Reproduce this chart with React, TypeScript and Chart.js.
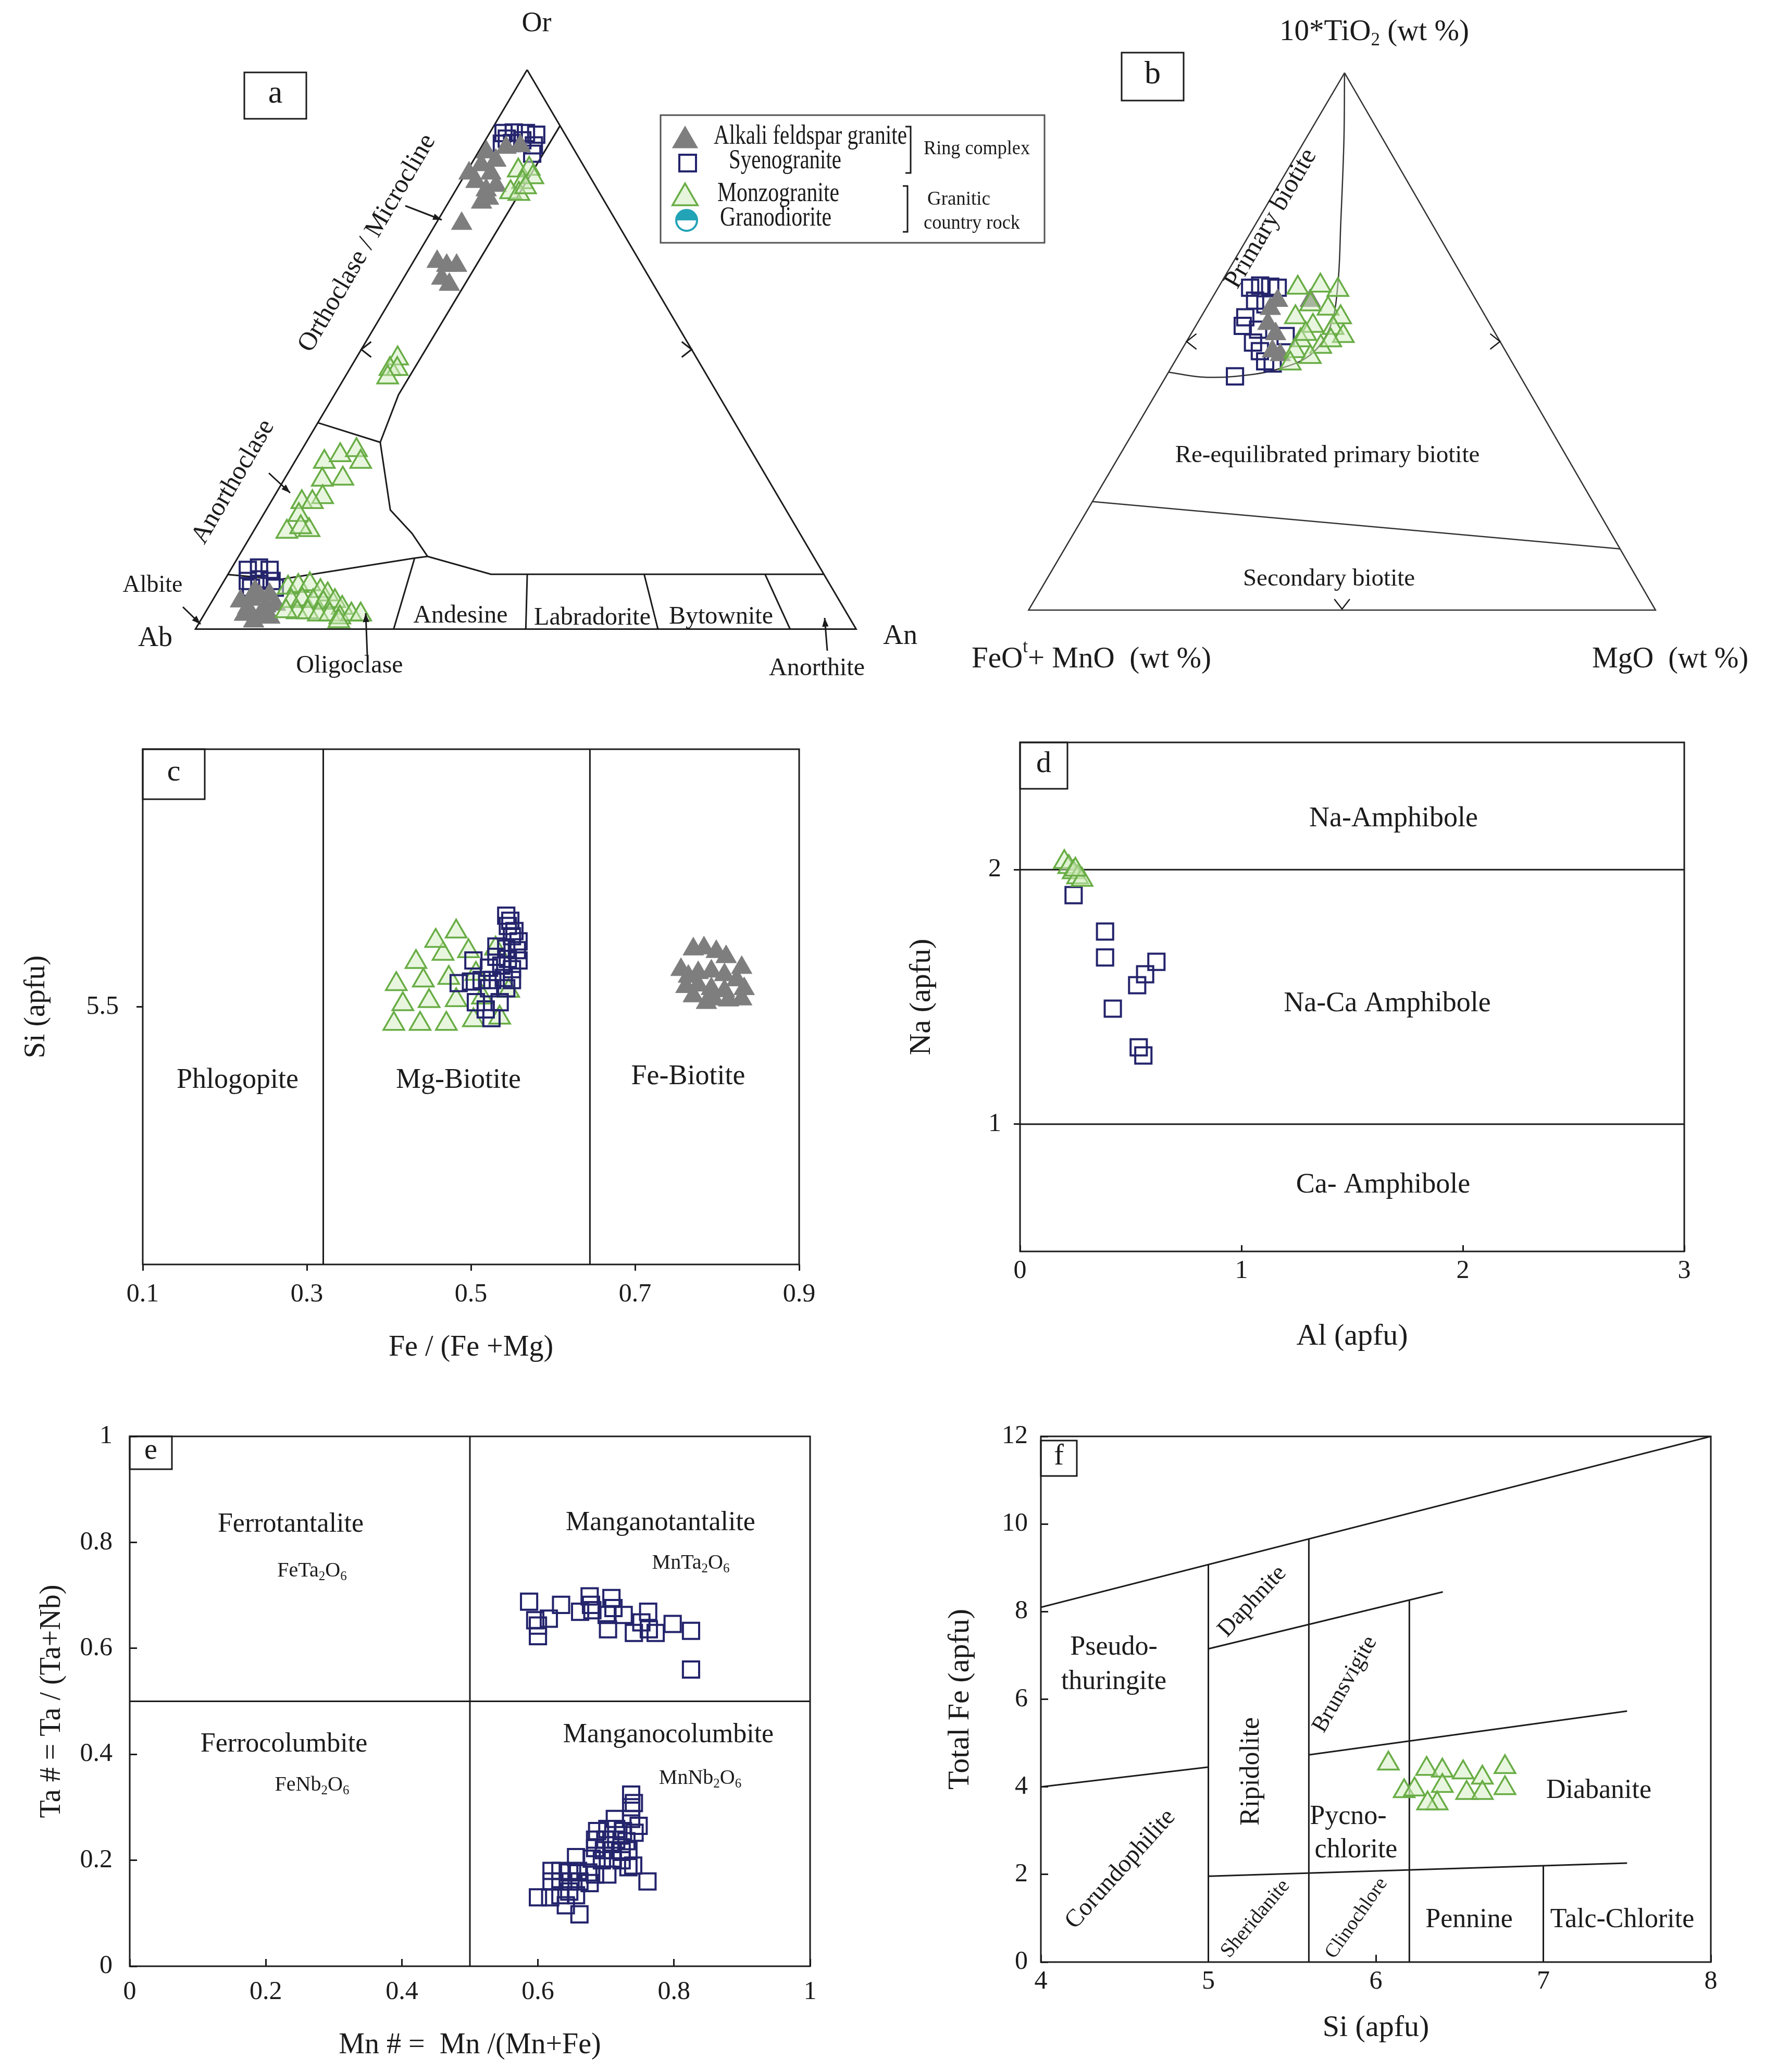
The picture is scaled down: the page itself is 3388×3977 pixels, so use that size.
import React, { useEffect, useRef } from 'react';
import { Chart, registerables } from 'chart.js';

Chart.register(...registerables);

const SERIF = '"Liberation Serif", "Times New Roman", "DejaVu Serif", serif';
const INK = '#1b1b1b';
const NAVY = '#24246c';
const GRAY = '#7e7e7e';
const GREEN = '#69ad46';
const GREEN_FILL = 'rgba(212,238,192,0.5)';
const TEAL = '#22a3b6';

// ================= DATA =================
// (a) Feldspar ternary, [Or, Ab, An] in %
const A_ALKALI = [
  [85.3, 13.5, 1.2], [83.0, 15.4, 1.6], [81.5, 14.7, 3.8], [80.0, 17.7, 2.3], [78.5, 16.9, 4.6], [76.3, 18.7, 5.0],
  [83.8, 12.8, 3.4], [86.1, 10.1, 3.8], [86.4, 7.8, 5.8], [79.3, 15.0, 5.7], [77.0, 17.3, 5.7], [81.5, 18.0, 0.5],
  [72.5, 23.6, 3.9], [65.7, 30.7, 3.6], [65.0, 29.6, 5.4], [65.0, 28.1, 6.9], [62.7, 31.5, 5.8], [61.6, 30.9, 7.5],
  [2.6, 91.3, 6.1], [1.4, 90.5, 8.1], [2.6, 88.9, 8.5], [2.1, 87.7, 10.2], [5.0, 90.7, 4.3], [5.3, 88.9, 5.8],
  [5.9, 87.3, 6.8], [6.2, 85.7, 8.1], [4.4, 85.7, 9.9], [3.8, 90.2, 6.0], [4.1, 87.3, 8.6], [6.8, 87.6, 5.6],
];
const A_SYENO = [
  [88.7, 9.2, 2.1], [88.8, 7.6, 3.6], [88.7, 5.8, 5.5], [88.4, 4.4, 7.2], [86.8, 10.4, 2.8], [86.9, 8.8, 4.3],
  [86.5, 5.7, 7.8], [85.0, 6.7, 8.3], [87.7, 9.2, 3.1], [87.4, 7.0, 5.6],
  [10.6, 86.8, 2.6], [11.0, 84.9, 4.1], [10.6, 83.5, 5.9], [8.6, 87.8, 3.6], [8.9, 85.9, 5.2], [8.6, 84.2, 7.2],
  [7.4, 84.3, 8.3], [7.4, 87.9, 4.7],
];
const A_MONZO = [
  [82.0, 10.3, 7.7], [82.3, 8.5, 9.2], [79.9, 10.7, 9.4], [80.8, 8.7, 10.5], [78.1, 13.4, 8.5], [77.8, 12.3, 9.9], [79.0, 10.7, 10.3],
  [48.4, 45.3, 6.3], [46.5, 47.4, 6.1], [46.5, 46.3, 7.2], [45.0, 48.5, 6.5],
  [29.9, 65.6, 4.5], [31.1, 62.6, 6.3], [32.0, 59.7, 8.3], [29.9, 60.1, 10.0], [26.7, 67.5, 5.8], [26.9, 64.3, 8.8],
  [23.6, 69.0, 7.4], [22.7, 72.6, 4.7], [22.7, 71.0, 6.3], [20.4, 74.2, 5.4], [17.4, 77.5, 5.1], [17.7, 74.0, 8.3], [18.2, 75.0, 6.8],
  [7.4, 82.3, 10.3], [7.7, 80.6, 11.7], [8.0, 78.7, 13.3], [6.8, 77.7, 15.5], [6.2, 76.9, 16.9], [5.0, 83.0, 12.0],
  [5.3, 81.2, 13.5], [5.0, 79.7, 15.3], [4.7, 78.3, 17.0], [5.0, 76.4, 18.6], [3.8, 75.9, 20.3], [3.0, 83.1, 13.9],
  [3.0, 81.5, 15.5], [2.6, 80.1, 17.3], [2.6, 78.4, 19.0], [2.1, 77.1, 20.8], [2.6, 75.1, 22.3], [2.6, 73.7, 23.7],
  [1.4, 77.6, 21.0], [3.2, 84.7, 12.1],
];
const A_GRANODIORITE: number[][] = [];
const A_EDGE = [[100, 0, 0], [0, 100, 0], [0, 0, 100], [100, 0, 0]];
const A_FIELDS = [
  [[9.75, 90.25, 0], [8.9, 82.7, 8.4], [12.7, 60.5, 26.8], [13.0, 58.4, 28.6]],
  [[12.7, 60.5, 26.8], [0, 70, 30]],
  [[13.0, 58.4, 28.6], [17.1, 58.7, 24.2], [21.3, 59.9, 18.8], [33.4, 55.4, 11.2], [36.9, 63.1, 0]],
  [[33.4, 55.4, 11.2], [41.9, 48.4, 9.7], [90, 0, 10]],
  [[13.0, 58.4, 28.6], [9.8, 50.4, 39.8], [9.8, 0, 90.2]],
  [[9.8, 44.9, 45.3], [0, 50, 50]],
  [[9.8, 27.2, 63.0], [0, 30, 70]],
  [[9.8, 8.9, 81.3], [0, 10, 90]],
];

// (b) Biotite ternary, [10*TiO2, FeOt+MnO, MgO] in %
const B_SYENO = [
  [60.4, 33.1, 6.5], [60.2, 31.6, 8.2], [60.0, 30.5, 9.5], [57.6, 35.3, 7.1], [56.9, 34.0, 9.1], [54.5, 38.4, 7.1],
  [52.9, 39.6, 7.5], [52.2, 37.5, 10.3], [49.8, 39.5, 10.7], [48.2, 39.2, 12.6], [46.3, 39.3, 14.4], [45.9, 38.3, 15.8],
  [51.0, 33.7, 15.3], [43.5, 45.5, 11.0], [60.0, 34.9, 5.1],
];
const B_ALKALI = [
  [56.1, 33.6, 10.3], [57.6, 31.7, 10.7], [51.4, 35.1, 13.5], [48.2, 37.2, 14.6], [47.5, 36.3, 16.2], [53.3, 35.4, 11.3], [57.6, 26.5, 15.9],
];
const B_MONZO = [
  [60.0, 27.3, 12.7], [60.4, 23.5, 16.1], [59.6, 21.1, 19.3], [56.9, 26.8, 16.3], [56.1, 24.4, 19.5], [54.5, 23.2, 22.3],
  [54.5, 30.4, 15.1], [52.9, 28.4, 18.7], [52.5, 25.4, 22.1], [51.0, 24.5, 24.5], [50.2, 31.7, 18.1], [49.0, 29.1, 21.9],
  [48.2, 33.6, 18.2], [47.1, 31.7, 21.2], [45.9, 35.5, 18.6], [50.2, 26.9, 22.9], [51.4, 30.3, 18.3],
];
const B_EDGE = [[100, 0, 0], [0, 100, 0], [0, 0, 100], [100, 0, 0]];
const B_SECONDARY = [[20.2, 79.8, 0], [11.4, 0, 88.6]];
const B_PRIMARY = [
  [100, 0, 0], [87.5, 6.3, 6.2], [71.8, 14.6, 13.6], [60.8, 20.5, 18.7], [52.9, 25.6, 21.5],
  [47.5, 31.5, 21.0], [44.7, 38.5, 16.8], [43.5, 45.5, 11.0], [43.4, 51.1, 5.5], [44.3, 55.7, 0],
];

// (c) Biotite classification: [Fe/(Fe+Mg), Si apfu]
const C_X_TICKS = [0.1, 0.3, 0.5, 0.7, 0.9];
const C_Y_TICKS = [5.5];
const C_BOUNDS = [0.32, 0.645];
const C_MONZO = [
  [0.406, 5.467], [0.438, 5.467], [0.470, 5.467], [0.503, 5.474], [0.535, 5.479], [0.417, 5.505], [0.449, 5.511],
  [0.482, 5.513], [0.514, 5.518], [0.409, 5.544], [0.442, 5.551], [0.473, 5.556], [0.506, 5.564], [0.433, 5.587],
  [0.466, 5.603], [0.497, 5.608], [0.482, 5.646], [0.457, 5.628], [0.530, 5.613], [0.546, 5.531],
];
const C_SYENO = [
  [0.543, 5.677], [0.548, 5.667], [0.545, 5.657], [0.553, 5.647], [0.550, 5.637], [0.558, 5.627], [0.531, 5.617],
  [0.543, 5.613], [0.556, 5.610], [0.503, 5.590], [0.531, 5.597], [0.545, 5.593], [0.558, 5.590], [0.522, 5.576],
  [0.537, 5.580], [0.550, 5.573], [0.485, 5.546], [0.500, 5.549], [0.513, 5.552], [0.526, 5.552], [0.540, 5.556],
  [0.550, 5.552], [0.522, 5.536], [0.543, 5.536], [0.506, 5.509], [0.518, 5.495], [0.535, 5.509], [0.525, 5.478],
];
const C_ALKALI = [
  [0.771, 5.612], [0.784, 5.614], [0.799, 5.607], [0.811, 5.597], [0.830, 5.576], [0.756, 5.572], [0.765, 5.559],
  [0.777, 5.566], [0.793, 5.569], [0.809, 5.562], [0.824, 5.552], [0.833, 5.535], [0.762, 5.539], [0.777, 5.542],
  [0.793, 5.535], [0.809, 5.531], [0.796, 5.515], [0.814, 5.513], [0.830, 5.515], [0.771, 5.521], [0.787, 5.508],
];

// (d) Amphibole: [Al apfu, Na apfu]
const D_X_TICKS = [0, 1, 2, 3];
const D_Y_TICKS = [1, 2];
const D_BOUNDS = [1, 2];
const D_MONZO = [[0.20, 2.03], [0.22, 2.01], [0.24, 1.99], [0.26, 1.97], [0.28, 1.96], [0.25, 2.0]];
const D_SYENO = [
  [0.242, 1.90], [0.384, 1.757], [0.384, 1.655], [0.616, 1.638], [0.565, 1.589], [0.529, 1.546],
  [0.419, 1.454], [0.536, 1.302], [0.557, 1.270],
];

// (e) Columbite-tantalite: [Mn#, Ta#]
const E_TICKS = [0, 0.2, 0.4, 0.6, 0.8, 1];
const E_BOUNDS = [0.5];
const E_SYENO_TA = [
  [0.587, 0.688], [0.596, 0.653], [0.600, 0.643], [0.600, 0.623], [0.616, 0.656], [0.634, 0.682], [0.662, 0.669],
  [0.676, 0.698], [0.678, 0.682], [0.680, 0.672], [0.701, 0.663], [0.703, 0.636], [0.708, 0.695], [0.711, 0.676],
  [0.726, 0.663], [0.741, 0.629], [0.752, 0.649], [0.762, 0.669], [0.763, 0.636], [0.773, 0.629], [0.798, 0.646],
  [0.825, 0.633], [0.825, 0.560],
];
const E_SYENO_NB = [
  [0.737, 0.324], [0.741, 0.308], [0.737, 0.300], [0.713, 0.278], [0.737, 0.278], [0.748, 0.265], [0.742, 0.252],
  [0.687, 0.255], [0.702, 0.259], [0.715, 0.259], [0.725, 0.255], [0.684, 0.239], [0.699, 0.239], [0.715, 0.239],
  [0.730, 0.236], [0.684, 0.223], [0.697, 0.219], [0.710, 0.219], [0.723, 0.216], [0.733, 0.219], [0.656, 0.206],
  [0.679, 0.203], [0.694, 0.200], [0.710, 0.203], [0.723, 0.200], [0.733, 0.187], [0.740, 0.190], [0.620, 0.180],
  [0.633, 0.180], [0.646, 0.177], [0.659, 0.180], [0.674, 0.177], [0.684, 0.173], [0.620, 0.160], [0.633, 0.160],
  [0.648, 0.160], [0.661, 0.160], [0.676, 0.157], [0.702, 0.173], [0.600, 0.130], [0.618, 0.130], [0.633, 0.134],
  [0.646, 0.141], [0.656, 0.134], [0.641, 0.115], [0.661, 0.098], [0.761, 0.160],
];

// (f) Chlorite: [Si apfu, Total Fe apfu]
const F_X_TICKS = [4, 5, 6, 7, 8];
const F_Y_TICKS = [0, 2, 4, 6, 8, 10, 12];
const F_FIELDS = [
  [[4, 8.1], [8, 12]],
  [[5, 0], [5, 9.07]],
  [[5.6, 0], [5.6, 9.66]],
  [[5, 7.15], [6.4, 8.45]],
  [[6.2, 0], [6.2, 8.27]],
  [[4, 4.0], [5, 4.45]],
  [[5.6, 4.73], [7.5, 5.73]],
  [[5, 1.96], [7.5, 2.26]],
  [[7, 0], [7, 2.2]],
];
const F_MONZO = [
  [6.075, 4.53], [6.169, 3.90], [6.231, 3.94], [6.303, 4.41], [6.397, 4.37], [6.521, 4.33], [6.636, 4.21],
  [6.771, 4.45], [6.397, 4.02], [6.542, 3.86], [6.636, 3.86], [6.771, 3.97], [6.366, 3.62], [6.309, 3.62],
];

// ================= HELPERS =================
type Seg = { t: string; s?: 'sub' | 'sup' };
type Txt = { text: string | Seg[]; x: number; y: number; size: number; rot?: number; align?: 'left' | 'center' | 'right'; w?: number };

function drawText(ctx: CanvasRenderingContext2D, l: Txt) {
  const segs: Seg[] = typeof l.text === 'string' ? [{ t: l.text }] : l.text;
  const fontFor = (s?: string) => `${s ? Math.round(l.size * 0.62) : l.size}px ${SERIF}`;
  const widths = segs.map((sg) => { ctx.font = fontFor(sg.s); return ctx.measureText(sg.t).width; });
  const total = widths.reduce((a, b) => a + b, 0);
  const sx = l.w ? l.w / total : 1;
  ctx.save();
  ctx.translate(l.x, l.y);
  if (l.rot) ctx.rotate((l.rot * Math.PI) / 180);
  ctx.scale(sx, 1);
  ctx.fillStyle = INK;
  ctx.textBaseline = 'middle';
  ctx.textAlign = 'left';
  let cx = l.align === 'left' ? 0 : l.align === 'right' ? -total : -total / 2;
  segs.forEach((sg, i) => {
    ctx.font = fontFor(sg.s);
    const dy = sg.s === 'sub' ? l.size * 0.28 : sg.s === 'sup' ? -l.size * 0.4 : 0;
    ctx.fillText(sg.t, cx, dy);
    cx += widths[i];
  });
  ctx.restore();
}

function arrow(ctx: CanvasRenderingContext2D, x1: number, y1: number, x2: number, y2: number, head = 18) {
  ctx.beginPath(); ctx.moveTo(x1, y1); ctx.lineTo(x2, y2); ctx.stroke();
  const a = Math.atan2(y2 - y1, x2 - x1);
  ctx.beginPath();
  ctx.moveTo(x2, y2);
  ctx.lineTo(x2 - head * Math.cos(a - 0.35), y2 - head * Math.sin(a - 0.35));
  ctx.lineTo(x2 - head * Math.cos(a + 0.35), y2 - head * Math.sin(a + 0.35));
  ctx.closePath(); ctx.fill();
}

function chevron(ctx: CanvasRenderingContext2D, x: number, y: number, dirDeg: number, len = 24, spread = 38) {
  const a = (dirDeg * Math.PI) / 180, s = (spread * Math.PI) / 180;
  ctx.beginPath();
  ctx.moveTo(x + len * Math.cos(a - s), y + len * Math.sin(a - s));
  ctx.lineTo(x, y);
  ctx.lineTo(x + len * Math.cos(a + s), y + len * Math.sin(a + s));
  ctx.stroke();
}

function letterBox(ctx: CanvasRenderingContext2D, x1: number, y1: number, x2: number, y2: number, letter: string, size = 58) {
  ctx.lineWidth = 3;
  ctx.strokeStyle = INK;
  ctx.strokeRect(x1, y1, x2 - x1, y2 - y1);
  drawText(ctx, { text: letter, x: (x1 + x2) / 2, y: (y1 + y2) / 2 - 3, size });
}

function tri(ctx: CanvasRenderingContext2D, x: number, y: number, r: number, fill: string, stroke: string, lw: number) {
  ctx.beginPath();
  for (let k = 0; k < 3; k++) {
    const a = (k * 2 * Math.PI) / 3;
    const px = x + Math.sin(a) * r, py = y - Math.cos(a) * r;
    if (k === 0) ctx.moveTo(px, py); else ctx.lineTo(px, py);
  }
  ctx.closePath();
  ctx.fillStyle = fill; ctx.fill();
  if (lw > 0) { ctx.lineWidth = lw; ctx.strokeStyle = stroke; ctx.stroke(); }
}

const SQ = { pointStyle: 'rect', pointRadius: 22, pointBorderWidth: 4, borderWidth: 4, pointBorderColor: NAVY, borderColor: NAVY, pointBackgroundColor: 'rgba(255,255,255,0)', backgroundColor: 'rgba(255,255,255,0)' };
const GTRI = { pointStyle: 'triangle', pointRadius: 23, pointBorderWidth: 1, borderWidth: 1, pointBorderColor: GRAY, borderColor: GRAY, pointBackgroundColor: GRAY, backgroundColor: GRAY };
const MTRI = { pointStyle: 'triangle', pointRadius: 23, pointBorderWidth: 3.5, borderWidth: 3.5, pointBorderColor: GREEN, borderColor: GREEN, pointBackgroundColor: GREEN_FILL, backgroundColor: GREEN_FILL };

const pts = (data: { x: number; y: number }[], style: any) => ({ type: 'scatter', data, showLine: false, ...style });
const line = (data: { x: number; y: number }[], extra: any = {}) => ({
  type: 'scatter', data, showLine: true, pointRadius: 0, borderColor: INK, borderWidth: 3, fill: false, tension: 0, ...extra,
});
const xy = (a: number[][]) => a.map((p) => ({ x: p[0], y: p[1] }));
const tern = (apex: number) => (p: number[]) => ({ x: p[2] + p[0] * apex, y: p[0] });
const TA = tern(0.502);
const TB = tern(0.504);

const overlay = (ox: number, oy: number, draw: (ctx: CanvasRenderingContext2D, toPage: (x: number, y: number) => number[]) => void) => ({
  id: 'overlay',
  afterDraw(chart: any) {
    const ctx = chart.ctx as CanvasRenderingContext2D;
    const toPage = (x: number, y: number) => [chart.scales.x.getPixelForValue(x) + ox, chart.scales.y.getPixelForValue(y) + oy];
    ctx.save();
    ctx.translate(-ox, -oy);
    ctx.strokeStyle = INK; ctx.fillStyle = INK; ctx.lineWidth = 3; ctx.lineCap = 'butt';
    draw(ctx, toPage);
    ctx.restore();
  },
});

const framePlugin = {
  id: 'frame',
  afterDatasetsDraw(chart: any) {
    const { left, top, right, bottom } = chart.chartArea;
    const ctx = chart.ctx as CanvasRenderingContext2D;
    ctx.save(); ctx.strokeStyle = INK; ctx.lineWidth = 3;
    ctx.strokeRect(left, top, right - left, bottom - top);
    ctx.restore();
  },
};

const BASE_OPTS = {
  responsive: false, animation: false, devicePixelRatio: 1, events: [],
  plugins: { legend: { display: false }, tooltip: { enabled: false } },
};

function ternConfig(box: number[], g: { l: number; r: number; base: number; apex: number }, datasets: any[], draw: any) {
  const [cl, ct, W, H] = box;
  const kx = (g.r - g.l) / 100, ky = (g.base - g.apex) / 100;
  return {
    type: 'scatter',
    data: { datasets },
    options: {
      ...BASE_OPTS,
      layout: { padding: 0 },
      scales: {
        x: { type: 'linear', display: false, min: (cl - g.l) / kx, max: (cl + W - g.l) / kx },
        y: { type: 'linear', display: false, min: (g.base - ct - H) / ky, max: (g.base - ct) / ky },
      },
    },
    plugins: [overlay(cl, ct, draw)],
  };
}

type Ax = { min: number; max: number; ticks: number[]; title: string; titleSize: number; titlePad: number; tickSize: number; tickLen: number; tickPad: number };
const fmt = (v: number) => String(Math.round(v * 100) / 100);

function cartConfig(box: number[], area: number[], X: Ax, Y: Ax, datasets: any[], draw: any) {
  const [cl, ct, W, H] = box;
  const [al, at, ar, ab] = area;
  const grid = (len: number) => ({ drawOnChartArea: false, drawTicks: true, tickLength: len, tickWidth: 3, tickColor: INK });
  return {
    type: 'scatter',
    data: { datasets },
    options: {
      ...BASE_OPTS,
      layout: { padding: { left: 0, bottom: 0, top: at - ct, right: cl + W - ar } },
      scales: {
        x: {
          type: 'linear', position: 'bottom', min: X.min, max: X.max,
          afterBuildTicks: (s: any) => { s.ticks = X.ticks.map((v) => ({ value: v })); },
          afterFit: (s: any) => { s.height = ct + H - ab; },
          ticks: { font: { family: SERIF, size: X.tickSize }, color: INK, padding: X.tickPad, autoSkip: false, maxRotation: 0, callback: (v: number) => fmt(v) },
          grid: grid(X.tickLen),
          border: { display: false },
          title: { display: true, text: X.title, color: INK, font: { family: SERIF, size: X.titleSize }, padding: { top: 0, bottom: X.titlePad } },
        },
        y: {
          type: 'linear', position: 'left', min: Y.min, max: Y.max,
          afterBuildTicks: (s: any) => { s.ticks = Y.ticks.map((v) => ({ value: v })); },
          afterFit: (s: any) => { s.width = al - cl; },
          ticks: { font: { family: SERIF, size: Y.tickSize }, color: INK, padding: Y.tickPad, autoSkip: false, callback: (v: number) => fmt(v) },
          grid: grid(Y.tickLen),
          border: { display: false },
          title: { display: true, text: Y.title, color: INK, font: { family: SERIF, size: Y.titleSize }, padding: { top: Y.titlePad, bottom: 0 } },
        },
      },
    },
    plugins: [framePlugin, overlay(cl, ct, draw)],
  };
}

// ================= PANELS =================
const BOX_A = [0, 0, 2040, 1330];
const GEO_A = { l: 358, r: 1660, base: 1230, apex: 112 };
const BOX_B = [1800, 0, 1588, 1330];
const GEO_B = { l: 1953, r: 3198, base: 1192, apex: 118 };
const BOX_C = [20, 1340, 1600, 1310];
const BOX_D = [1700, 1330, 1600, 1310];
const BOX_E = [0, 2660, 1620, 1317];
const BOX_F = [1700, 2660, 1688, 1317];

const A_TEXT: Txt[] = [
  { text: 'Or', x: 1030, y: 46, size: 54 },
  { text: 'Ab', x: 298, y: 1226, size: 54 },
  { text: 'An', x: 1728, y: 1222, size: 54 },
  { text: 'Albite', x: 293, y: 1124, size: 46 },
  { text: 'Oligoclase', x: 671, y: 1278, size: 48 },
  { text: 'Anorthite', x: 1568, y: 1283, size: 48 },
  { text: 'Andesine', x: 884, y: 1182, size: 48 },
  { text: 'Labradorite', x: 1137, y: 1186, size: 48 },
  { text: 'Bytownite', x: 1384, y: 1184, size: 48 },
  { text: 'Orthoclase / Microcline', x: 705, y: 467, size: 50, rot: -59.7 },
  { text: 'Anorthoclase', x: 448, y: 925, size: 50, rot: -59.7 },
];

function makeA() {
  const datasets = [
    pts(A_MONZO.map(TA), MTRI),
    pts(A_ALKALI.map(TA), GTRI),
    pts(A_SYENO.map(TA), SQ),
    pts(A_GRANODIORITE.map(TA), { pointStyle: 'circle', pointRadius: 20, borderColor: TEAL, backgroundColor: TEAL }),
    ...A_FIELDS.map((f) => line(f.map(TA))),
    line(A_EDGE.map(TA)),
  ];
  return ternConfig(BOX_A, GEO_A, datasets, (ctx: CanvasRenderingContext2D, toPage: any) => {
    const L = TA([50, 50, 0]), R = TA([50, 0, 50]);
    const [lx, ly] = toPage(L.x, L.y), [rx, ry] = toPage(R.x, R.y);
    chevron(ctx, lx, ly, 0);
    chevron(ctx, rx, ry, 180);
    arrow(ctx, 778, 395, 848, 422);
    arrow(ctx, 516, 908, 557, 946);
    arrow(ctx, 351, 1165, 385, 1198);
    arrow(ctx, 705, 1257, 702, 1177);
    arrow(ctx, 1588, 1249, 1583, 1186);
    A_TEXT.forEach((t) => drawText(ctx, t));
    letterBox(ctx, 469, 139, 588, 228, 'a', 62);
    // legend
    ctx.lineWidth = 3; ctx.strokeStyle = '#555';
    ctx.strokeRect(1268, 221, 737, 245);
    tri(ctx, 1315, 270, 29, GRAY, GRAY, 0);
    ctx.lineWidth = 4; ctx.strokeStyle = NAVY; ctx.strokeRect(1304, 297, 32, 32);
    tri(ctx, 1315, 380, 28, 'rgba(230,245,220,1)', GREEN, 3.5);
    ctx.beginPath(); ctx.arc(1318, 423, 20, Math.PI, 2 * Math.PI); ctx.closePath(); ctx.fillStyle = TEAL; ctx.fill();
    ctx.beginPath(); ctx.arc(1318, 423, 20, 0, 2 * Math.PI); ctx.lineWidth = 4; ctx.strokeStyle = TEAL; ctx.stroke();
    ctx.strokeStyle = INK; ctx.lineWidth = 3;
    ctx.beginPath(); ctx.moveTo(1738, 243); ctx.lineTo(1748, 243); ctx.lineTo(1748, 332); ctx.lineTo(1738, 332); ctx.stroke();
    ctx.beginPath(); ctx.moveTo(1733, 357); ctx.lineTo(1742, 357); ctx.lineTo(1742, 445); ctx.lineTo(1733, 445); ctx.stroke();
    drawText(ctx, { text: 'Alkali feldspar granite', x: 1370, y: 262, size: 52, align: 'left', w: 371 });
    drawText(ctx, { text: 'Syenogranite', x: 1399, y: 309, size: 52, align: 'left', w: 216 });
    drawText(ctx, { text: 'Monzogranite', x: 1377, y: 372, size: 52, align: 'left', w: 234 });
    drawText(ctx, { text: 'Granodiorite', x: 1382, y: 419, size: 52, align: 'left', w: 214 });
    drawText(ctx, { text: 'Ring complex', x: 1773, y: 286, size: 37, align: 'left', w: 204 });
    drawText(ctx, { text: 'Granitic', x: 1780, y: 383, size: 37, align: 'left', w: 121 });
    drawText(ctx, { text: 'country rock', x: 1773, y: 429, size: 37, align: 'left', w: 185 });
  });
}

function makeB() {
  const datasets = [
    pts(B_MONZO.map(TB), MTRI),
    pts(B_ALKALI.map(TB), GTRI),
    pts(B_SYENO.map(TB), SQ),
    line(B_PRIMARY.map(TB), { tension: 0.35, borderWidth: 2.5, borderColor: '#333' }),
    line(B_SECONDARY.map(TB), { borderWidth: 2.5, borderColor: '#333' }),
    line(B_EDGE.map(TB), { borderWidth: 2.5, borderColor: '#333' }),
  ];
  return ternConfig(BOX_B, GEO_B, datasets, (ctx: CanvasRenderingContext2D, toPage: any) => {
    const L = TB([50, 50, 0]), R = TB([50, 0, 50]), D = TB([0, 50, 50]);
    const [lx, ly] = toPage(L.x, L.y), [rx, ry] = toPage(R.x, R.y), [dx, dy] = toPage(D.x, D.y);
    ctx.lineWidth = 2.5;
    chevron(ctx, lx, ly, 0);
    chevron(ctx, rx, ry, 180);
    chevron(ctx, dx, dy - 2, -90);
    drawText(ctx, { text: [{ t: '10*TiO' }, { t: '2', s: 'sub' }, { t: ' (wt %)' }], x: 2638, y: 62, size: 57 });
    drawText(ctx, { text: [{ t: 'FeO' }, { t: 't', s: 'sup' }, { t: '+ MnO  (wt %)' }], x: 2095, y: 1266, size: 57 });
    drawText(ctx, { text: 'MgO  (wt %)', x: 3206, y: 1266, size: 56 });
    drawText(ctx, { text: 'Re-equilibrated primary biotite', x: 2548, y: 875, size: 47 });
    drawText(ctx, { text: 'Secondary biotite', x: 2551, y: 1112, size: 47 });
    drawText(ctx, { text: 'Primary biotite', x: 2440, y: 420, size: 50, rot: -59.6 });
    letterBox(ctx, 2153, 101, 2272, 193, 'b', 62);
  });
}

function makeC() {
  const datasets = [
    pts(xy(C_SYENO), SQ),
    pts(xy(C_ALKALI), GTRI),
    pts(xy(C_MONZO), MTRI),
    ...C_BOUNDS.map((b) => line([{ x: b, y: 5.0 }, { x: b, y: 6.0 }])),
  ];
  return cartConfig(BOX_C, [274, 1438, 1534, 2427],
    { min: 0.1, max: 0.9, ticks: C_X_TICKS, title: 'Fe / (Fe +Mg)', titleSize: 56, titlePad: 29, tickSize: 50, tickLen: 12, tickPad: 16 },
    { min: 5.0, max: 6.0, ticks: C_Y_TICKS, title: 'Si (apfu)', titleSize: 56, titlePad: 17, tickSize: 50, tickLen: 12, tickPad: 34 },
    datasets, (ctx: CanvasRenderingContext2D) => {
      drawText(ctx, { text: 'Phlogopite', x: 456, y: 2074, size: 54 });
      drawText(ctx, { text: 'Mg-Biotite', x: 880, y: 2074, size: 54 });
      drawText(ctx, { text: 'Fe-Biotite', x: 1321, y: 2067, size: 54 });
      letterBox(ctx, 274, 1438, 393, 1534, 'c', 58);
    });
}

function makeD() {
  const datasets = [
    pts(xy(D_MONZO), MTRI),
    pts(xy(D_SYENO), SQ),
    ...D_BOUNDS.map((b) => line([{ x: 0, y: b }, { x: 3, y: b }])),
  ];
  return cartConfig(BOX_D, [1958, 1425, 3233, 2402],
    { min: 0, max: 3, ticks: D_X_TICKS, title: 'Al (apfu)', titleSize: 58, titlePad: 39, tickSize: 50, tickLen: -12, tickPad: 20 },
    { min: 0.5, max: 2.5, ticks: D_Y_TICKS, title: 'Na (apfu)', titleSize: 58, titlePad: 35, tickSize: 50, tickLen: 12, tickPad: 24 },
    datasets, (ctx: CanvasRenderingContext2D) => {
      drawText(ctx, { text: 'Na-Amphibole', x: 2675, y: 1572, size: 54 });
      drawText(ctx, { text: 'Na-Ca Amphibole', x: 2663, y: 1927, size: 54 });
      drawText(ctx, { text: 'Ca- Amphibole', x: 2655, y: 2275, size: 54 });
      letterBox(ctx, 1958, 1425, 2049, 1514, 'd', 58);
    });
}

function makeE() {
  const datasets = [
    pts(xy(E_SYENO_TA), SQ),
    pts(xy(E_SYENO_NB), SQ),
    ...E_BOUNDS.map((b) => line([{ x: b, y: 0 }, { x: b, y: 1 }])),
    ...E_BOUNDS.map((b) => line([{ x: 0, y: b }, { x: 1, y: b }])),
  ];
  const sub = (a: string, b: string, c: string, d: string): Seg[] => [{ t: a }, { t: b, s: 'sub' }, { t: c }, { t: d, s: 'sub' }];
  return cartConfig(BOX_E, [249, 2757, 1555, 3774],
    { min: 0, max: 1, ticks: E_TICKS, title: 'Mn # =  Mn /(Mn+Fe)', titleSize: 56, titlePad: 17, tickSize: 50, tickLen: -14, tickPad: 34 },
    { min: 0, max: 1, ticks: E_TICKS, title: 'Ta # = Ta / (Ta+Nb)', titleSize: 56, titlePad: 67, tickSize: 50, tickLen: -14, tickPad: 47 },
    datasets, (ctx: CanvasRenderingContext2D) => {
      drawText(ctx, { text: 'Ferrotantalite', x: 558, y: 2926, size: 52 });
      drawText(ctx, { text: sub('FeTa', '2', 'O', '6'), x: 599, y: 3015, size: 40 });
      drawText(ctx, { text: 'Manganotantalite', x: 1268, y: 2923, size: 52 });
      drawText(ctx, { text: sub('MnTa', '2', 'O', '6'), x: 1326, y: 3000, size: 40 });
      drawText(ctx, { text: 'Ferrocolumbite', x: 545, y: 3348, size: 52 });
      drawText(ctx, { text: sub('FeNb', '2', 'O', '6'), x: 599, y: 3426, size: 40 });
      drawText(ctx, { text: 'Manganocolumbite', x: 1283, y: 3330, size: 52 });
      drawText(ctx, { text: sub('MnNb', '2', 'O', '6'), x: 1344, y: 3413, size: 40 });
      letterBox(ctx, 249, 2757, 330, 2820, 'e', 56);
    });
}

function makeF() {
  const datasets = [
    pts(xy(F_MONZO), MTRI),
    ...F_FIELDS.map((f) => line(xy(f))),
  ];
  return cartConfig(BOX_F, [1998, 2757, 3284, 3766],
    { min: 4, max: 8, ticks: F_X_TICKS, title: 'Si (apfu)', titleSize: 58, titlePad: 49, tickSize: 50, tickLen: -14, tickPad: 22 },
    { min: 0, max: 12, ticks: F_Y_TICKS, title: 'Total Fe (apfu)', titleSize: 58, titlePad: 109, tickSize: 50, tickLen: -14, tickPad: 39 },
    datasets, (ctx: CanvasRenderingContext2D) => {
      drawText(ctx, { text: 'Pseudo-', x: 2138, y: 3162, size: 52 });
      drawText(ctx, { text: 'thuringite', x: 2138, y: 3228, size: 52 });
      drawText(ctx, { text: 'Daphnite', x: 2404, y: 3074, size: 46, rot: -47 });
      drawText(ctx, { text: 'Brunsvigite', x: 2582, y: 3233, size: 44, rot: -60 });
      drawText(ctx, { text: 'Ripidolite', x: 2402, y: 3400, size: 52, rot: -90 });
      drawText(ctx, { text: 'Corundophilite', x: 2151, y: 3588, size: 48, rot: -48 });
      drawText(ctx, { text: 'Pycno-', x: 2588, y: 3487, size: 52 });
      drawText(ctx, { text: 'chlorite', x: 2603, y: 3551, size: 52 });
      drawText(ctx, { text: 'Diabanite', x: 3069, y: 3437, size: 52 });
      drawText(ctx, { text: 'Sheridanite', x: 2410, y: 3683, size: 40, rot: -50 });
      drawText(ctx, { text: 'Clinochlore', x: 2604, y: 3682, size: 38, rot: -55 });
      drawText(ctx, { text: 'Pennine', x: 2820, y: 3685, size: 52 });
      drawText(ctx, { text: 'Talc-Chlorite', x: 3114, y: 3685, size: 52 });
      letterBox(ctx, 1998, 2765, 2067, 2833, 'f', 56);
    });
}

function ChartCanvas({ box, make }: { box: number[]; make: () => any }) {
  const ref = useRef<HTMLCanvasElement | null>(null);
  useEffect(() => {
    const chart = new Chart(ref.current as HTMLCanvasElement, make());
    return () => chart.destroy();
  }, []);
  return (
    <canvas
      ref={ref}
      width={box[2]}
      height={box[3]}
      style={{ position: 'absolute', left: box[0], top: box[1], width: box[2], height: box[3] }}
    />
  );
}

export default function App() {
  return (
    <div style={{ position: 'absolute', left: 0, top: 0, width: 3388, height: 3977, background: '#ffffff', overflow: 'hidden' }}>
      <ChartCanvas box={BOX_A} make={makeA} />
      <ChartCanvas box={BOX_B} make={makeB} />
      <ChartCanvas box={BOX_C} make={makeC} />
      <ChartCanvas box={BOX_D} make={makeD} />
      <ChartCanvas box={BOX_E} make={makeE} />
      <ChartCanvas box={BOX_F} make={makeF} />
    </div>
  );
}
